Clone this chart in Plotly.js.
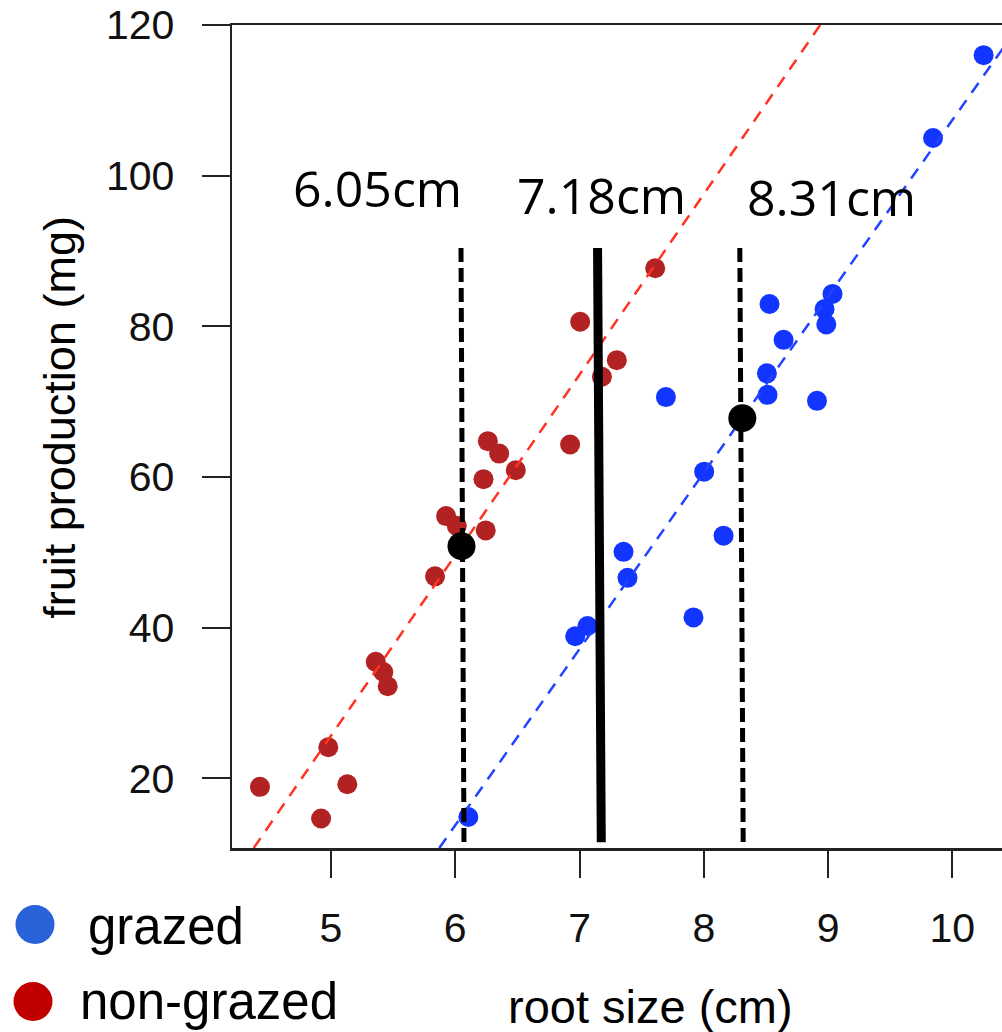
<!DOCTYPE html>
<html>
<head>
<meta charset="utf-8">
<script src="https://cdn.plot.ly/plotly-3.0.1.min.js"></script>
<style>html,body{margin:0;padding:0;background:#fff;}#chart{width:1002px;height:1032px;}</style>
</head>
<body>
<div id="chart"></div>
<script>
// ---- data ----
const nonGrazedX = [7.005, 6.924, 6.262, 6.353, 6.487, 6.227, 5.926, 6.012, 6.245, 5.837, 7.18, 7.30, 7.609, 5.36, 5.421, 5.456, 4.978, 4.428, 5.131, 4.92];
const nonGrazedY = [80.6, 64.3, 64.75, 63.1, 60.9, 59.7, 54.8, 53.5, 52.9, 46.8, 73.3, 75.5, 87.7, 35.45, 34.1, 32.2, 24.1, 18.85, 19.2, 14.65];
const grazedX = [10.252, 9.845, 8.529, 9.036, 8.972, 8.986, 8.642, 8.508, 8.513, 8.911, 7.695, 8.003, 8.159, 7.354, 7.386, 7.917, 6.965, 7.064, 6.105];
const grazedY = [116.0, 105.0, 82.95, 84.3, 82.3, 80.25, 78.2, 73.75, 70.9, 70.1, 70.6, 60.7, 52.2, 50.05, 46.6, 41.35, 38.85, 40.2, 14.85];
const nonGrazedFitX = [4.378, 8.937];
const nonGrazedFitY = [10.73, 120];
const grazedFitX = [5.871, 10.45];
const grazedFitY = [10.73, 117.9];
const equalX = [6.05, 8.31];
const equalY = [50.8, 67.8];
const lowLineX = [6.046, 6.07];
const midLineX = [7.145, 7.175];
const highLineX = [8.29, 8.317];
const markerLineY = [90.4, 11.5];
const markerLabels = ['6.05cm', '7.18cm', '8.31cm'];
const xTicks = [5, 6, 7, 8, 9, 10];
const yTicks = [20, 40, 60, 80, 100, 120];
const legendNames = ['grazed', 'non-grazed'];

const RED = '#b22222', BLUE = '#1236ff';
const AX = 'Liberation Sans, Arial, sans-serif';

// plot area in pixels: x 232..1002, y 25..848.5
const PL = 232, PR = 1002, PT = 25, PB = 848.5;
const px = p => (p - PL) / (PR - PL);
const py = p => (PB - p) / (PB - PT);

const traces = [
  {x: nonGrazedX, y: nonGrazedY, mode: 'markers', type: 'scatter',
   marker: {color: RED, size: 20}, hoverinfo: 'skip'},
  {x: grazedX, y: grazedY, mode: 'markers', type: 'scatter',
   marker: {color: BLUE, size: 20}, hoverinfo: 'skip'},
  {x: nonGrazedFitX, y: nonGrazedFitY, mode: 'lines', type: 'scatter',
   line: {color: '#ff3322', width: 2.5, dash: '12px,9px'}},
  {x: grazedFitX, y: grazedFitY, mode: 'lines', type: 'scatter',
   line: {color: '#2244ff', width: 2.5, dash: '12px,9px'}},
  {x: lowLineX, y: markerLineY, mode: 'lines', type: 'scatter',
   line: {color: '#000', width: 5, dash: '14px,6px'}},
  {x: midLineX, y: markerLineY, mode: 'lines', type: 'scatter',
   line: {color: '#000', width: 9}},
  {x: highLineX, y: markerLineY, mode: 'lines', type: 'scatter',
   line: {color: '#000', width: 5, dash: '14px,6px'}},
  {x: equalX, y: equalY, mode: 'markers', type: 'scatter',
   marker: {color: '#000', size: 28}}
];

const labelPos = [[377, 188], [601, 195], [831, 197]];
const annotations = markerLabels.map((t, i) => ({
  text: t, xref: 'paper', yref: 'paper', x: px(labelPos[i][0]), y: py(labelPos[i][1]),
  xanchor: 'center', yanchor: 'middle', showarrow: false,
  font: {family: 'Open Sans, Noto Sans, sans-serif', size: 50, color: '#000'}
}));
annotations.push(
  {text: 'root size (cm)', xref: 'paper', yref: 'paper', x: px(650), y: py(1007),
   xanchor: 'center', yanchor: 'middle', showarrow: false,
   font: {family: AX, size: 47, color: '#000'}},
  {text: 'fruit production (mg)', xref: 'paper', yref: 'paper', x: px(60), y: py(418),
   xanchor: 'center', yanchor: 'middle', showarrow: false, textangle: -90,
   font: {family: AX, size: 45, color: '#000'}},
  {text: legendNames[0], xref: 'paper', yref: 'paper', x: px(86), y: py(927),
   xanchor: 'left', yanchor: 'middle', showarrow: false,
   font: {family: AX, size: 51, color: '#000'}},
  {text: legendNames[1], xref: 'paper', yref: 'paper', x: px(78), y: py(1002),
   xanchor: 'left', yanchor: 'middle', showarrow: false,
   font: {family: AX, size: 51, color: '#000'}}
);

const circ = (cx, cy, r, col) => ({type: 'circle', xref: 'paper', yref: 'paper',
  x0: px(cx - r), x1: px(cx + r), y0: py(cy + r), y1: py(cy - r),
  fillcolor: col, line: {width: 0}});

const layout = {
  width: 1002, height: 1032,
  margin: {l: PL, r: 1002 - PR, t: PT, b: 1032 - PB},
  paper_bgcolor: '#fff', plot_bgcolor: '#fff',
  showlegend: false,
  xaxis: {range: [4.203, 10.4], tickvals: xTicks, ticktext: xTicks.map(String),
    ticks: 'outside', ticklen: 27, tickwidth: 2, tickcolor: '#222',
    showline: true, linewidth: 2.5, linecolor: '#222', mirror: true,
    showgrid: false, zeroline: false,
    tickfont: {family: AX, size: 41, color: '#111'}, ticklabelstandoff: 15},
  yaxis: {range: [10.73, 120], tickvals: yTicks, ticktext: yTicks.map(String),
    ticks: 'outside', ticklen: 28, tickwidth: 2, tickcolor: '#222',
    showline: true, linewidth: 2.5, linecolor: '#222',
    showgrid: false, zeroline: false,
    tickfont: {family: AX, size: 41, color: '#111'}, ticklabelstandoff: 19},
  annotations: annotations,
  shapes: [circ(35, 925, 19.5, '#2962d9'), circ(33, 1002, 19.5, '#c00000')]
};

Plotly.newPlot('chart', traces, layout, {displayModeBar: false, staticPlot: true});
</script>
</body>
</html>
